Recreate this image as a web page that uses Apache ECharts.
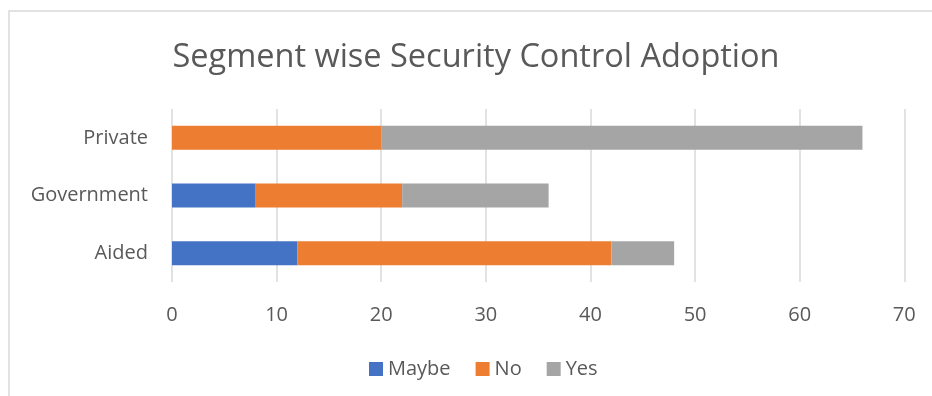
<!DOCTYPE html>
<html>
<head>
<meta charset="utf-8">
<script src="https://cdn.jsdelivr.net/npm/echarts@6/dist/echarts.min.js"></script>
<style>
  html, body { margin: 0; padding: 0; background: #fff; }
  #chart { width: 932px; height: 396px; }
</style>
</head>
<body>
<div id="chart"></div>
<script>
// Segments, bottom to top as drawn on the category axis
const categories = ['Aided', 'Government', 'Private'];
const maybeValues = [12, 8, 0];
const noValues = [30, 14, 20];
const yesValues = [6, 14, 46];
const xTicks = [0, 10, 20, 30, 40, 50, 60, 70];

const FONT = '"Open Sans", sans-serif';
const TEXT = '#595959';

const chart = echarts.init(document.getElementById('chart'));

function barSeries(name, data, color) {
  return {
    name: name,
    type: 'bar',
    stack: 'total',
    data: data,
    barWidth: 24,
    itemStyle: { color: color },
    emphasis: { disabled: true }
  };
}

chart.setOption({
  animation: false,
  backgroundColor: '#fff',
  graphic: [
    {
      type: 'rect',
      shape: { x: 9, y: 11, width: 1000, height: 500 },
      style: { fill: 'none', stroke: '#D9D9D9', lineWidth: 1.5 },
      silent: true
    },
    {
      type: 'text',
      x: 476,
      y: 58,
      style: {
        text: 'Segment wise Security Control Adoption',
        font: '32.5px ' + FONT,
        fill: TEXT,
        align: 'center',
        verticalAlign: 'middle'
      }
    }
  ],
  legend: {
    data: ['Maybe', 'No', 'Yes'],
    left: 364,
    top: 354,
    itemWidth: 14,
    itemHeight: 14,
    itemGap: 25,
    icon: 'rect',
    textStyle: { fontFamily: FONT, fontSize: 20, color: TEXT }
  },
  grid: { left: 172, right: 27.7, top: 109, height: 173, containLabel: false },
  xAxis: {
    type: 'value',
    min: xTicks[0],
    max: xTicks[xTicks.length - 1],
    interval: 10,
    axisLine: { show: false },
    axisTick: { show: false },
    splitLine: { lineStyle: { color: '#D9D9D9', width: 1.5 } },
    axisLabel: { fontFamily: FONT, fontSize: 20, color: TEXT, margin: 23 }
  },
  yAxis: {
    type: 'category',
    data: categories,
    axisLine: { show: false },
    axisTick: { show: false },
    axisLabel: { fontFamily: FONT, fontSize: 20, color: TEXT, margin: 24 }
  },
  series: [
    barSeries('Maybe', maybeValues, '#4472C4'),
    barSeries('No', noValues, '#ED7D31'),
    barSeries('Yes', yesValues, '#A5A5A5')
  ]
});
</script>
</body>
</html>
